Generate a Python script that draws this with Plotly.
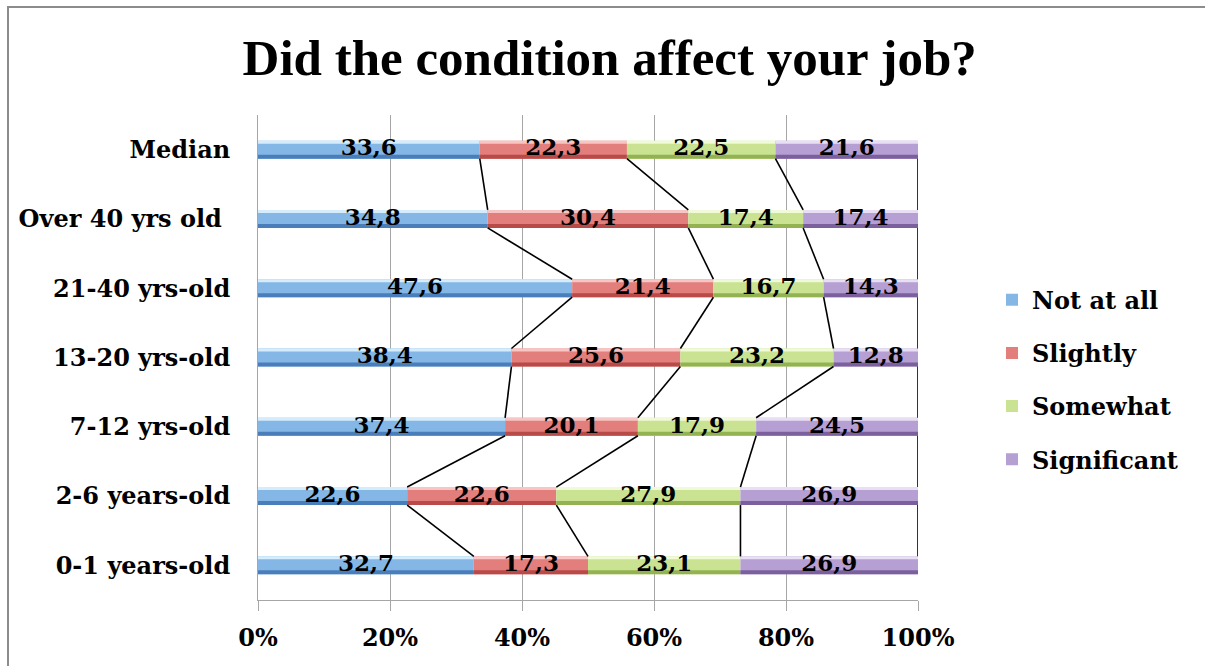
import plotly.graph_objects as go

# Age groups, bottom to top
categories = ["0-1 years-old", "2-6 years-old", "7-12 yrs-old", "13-20 yrs-old",
              "21-40 yrs-old", "Over 40 yrs old ", "Median"]

# Share of answers per group (%)
not_at_all  = [32.7, 22.6, 37.4, 38.4, 47.6, 34.8, 33.6]
slightly    = [17.3, 22.6, 20.1, 25.6, 21.4, 30.4, 22.3]
somewhat    = [23.1, 27.9, 17.9, 23.2, 16.7, 17.4, 22.5]
significant = [26.9, 26.9, 24.5, 12.8, 14.3, 17.4, 21.6]

series_names = ["Not at all", "Slightly", "Somewhat", "Significant"]
series_vals = [not_at_all, slightly, somewhat, significant]

x_ticks = [0, 20, 40, 60, 80, 100]
x_tick_labels = ["0%", "20%", "40%", "60%", "80%", "100%"]

# (dark edge, body, highlight) per series for a bevelled look
palette = [
    ("#4a7ebb", "#84b7e6", "#d4ecfb"),
    ("#b84a48", "#e27e7b", "#f7c6c4"),
    ("#93b252", "#c9e393", "#f0f9d8"),
    ("#7c609e", "#b59fd3", "#e8dff4"),
]

LABEL_FONT = "DejaVu Serif"
TITLE_FONT = "Liberation Serif"

n = len(categories)
ypos = list(range(n))
# normalise each row to 100 %
totals = [sum(s[i] for s in series_vals) for i in range(n)]
pct = [[s[i] / totals[i] * 100 for i in range(n)] for s in series_vals]

px = 1 / 69.3           # one pixel in category units
h = 18 * px             # bar thickness

fig = go.Figure()

# series lines joining the segment ends of neighbouring bars
cum = [0.0] * n
line_x, line_y = [], []
bases = []
for k in range(len(series_vals)):
    bases.append(cum[:])
    cum = [cum[i] + pct[k][i] for i in range(n)]
    for i in range(n - 1):
        line_x += [cum[i], cum[i + 1], None]
        line_y += [i + h / 2, i + 1 - h / 2, None]

fig.add_trace(go.Scatter(x=line_x, y=line_y, mode="lines",
                         line=dict(color="black", width=1.6),
                         showlegend=False, hoverinfo="skip", cliponaxis=False))

for k, name in enumerate(series_names):
    dark, body, hi = palette[k]
    common = dict(x=pct[k], y=ypos, base=bases[k], orientation="h",
                  hoverinfo="skip", textposition="none")
    fig.add_trace(go.Bar(name=name, legendgroup=name, showlegend=True,
                         marker=dict(color=body, line=dict(width=0)),
                         width=h, offset=-h / 2, **common))
    fig.add_trace(go.Bar(name=name, legendgroup=name, showlegend=False,
                         marker=dict(color=dark, line=dict(width=0)),
                         width=4 * px, offset=-h / 2, **common))
    fig.add_trace(go.Bar(name=name, legendgroup=name, showlegend=False,
                         marker=dict(color=hi, line=dict(width=0)),
                         width=3 * px, offset=h / 2 - 3 * px, **common))

# value labels centred on each segment
for k, name in enumerate(series_names):
    mids = [bases[k][i] + pct[k][i] / 2 for i in range(n)]
    labels = [f"{v:.1f}".replace(".", ",") for v in series_vals[k]]
    fig.add_trace(go.Scatter(x=mids, y=ypos, mode="text", text=labels,
                             textfont=dict(family=LABEL_FONT, size=23,
                                           color="black", weight="bold"),
                             showlegend=False, hoverinfo="skip",
                             legendgroup=name, cliponaxis=False))

fig.update_layout(
    width=1205, height=666,
    margin=dict(l=0, r=0, t=0, b=0),
    paper_bgcolor="white", plot_bgcolor="white",
    barmode="overlay",
    title=dict(text="Did the condition affect your job?",
               x=0.506, xanchor="center", y=0.914, yanchor="middle",
               font=dict(family=TITLE_FONT, size=51, color="black",
                         weight="bold")),
    xaxis=dict(domain=[258 / 1205, 918 / 1205], range=[0, 100],
               automargin=False,
               tickvals=x_ticks, ticktext=x_tick_labels,
               showgrid=True, gridcolor="#a6a6a6", gridwidth=1,
               showline=True, linecolor="#a6a6a6", linewidth=1,
               ticks="outside", ticklen=10, tickcolor="#a6a6a6",
               ticklabelstandoff=6, zeroline=False,
               tickfont=dict(family=LABEL_FONT, size=24, color="black",
                             weight="bold")),
    yaxis=dict(domain=[66 / 666, 551 / 666], range=[-0.5, n - 0.5],
               automargin=False,
               tickvals=ypos, ticktext=categories,
               showgrid=False, zeroline=False,
               showline=True, linecolor="#a6a6a6", linewidth=1,
               ticks="", ticklabelstandoff=22,
               tickfont=dict(family=LABEL_FONT, size=24, color="black",
                             weight="bold")),
    legend=dict(x=992 / 1205, xanchor="left", y=0.43, yanchor="middle",
                traceorder="grouped", tracegroupgap=19,
                font=dict(family=LABEL_FONT, size=24, color="black",
                          weight="bold"),
                bgcolor="rgba(0,0,0,0)"),
    shapes=[dict(type="rect", xref="paper", yref="paper",
                 x0=8 / 1205, x1=1.05, y0=-0.05, y1=1 - 7 / 666,
                 line=dict(color="#8c8c8c", width=2), layer="below")],
)

fig.write_html("out.html")
